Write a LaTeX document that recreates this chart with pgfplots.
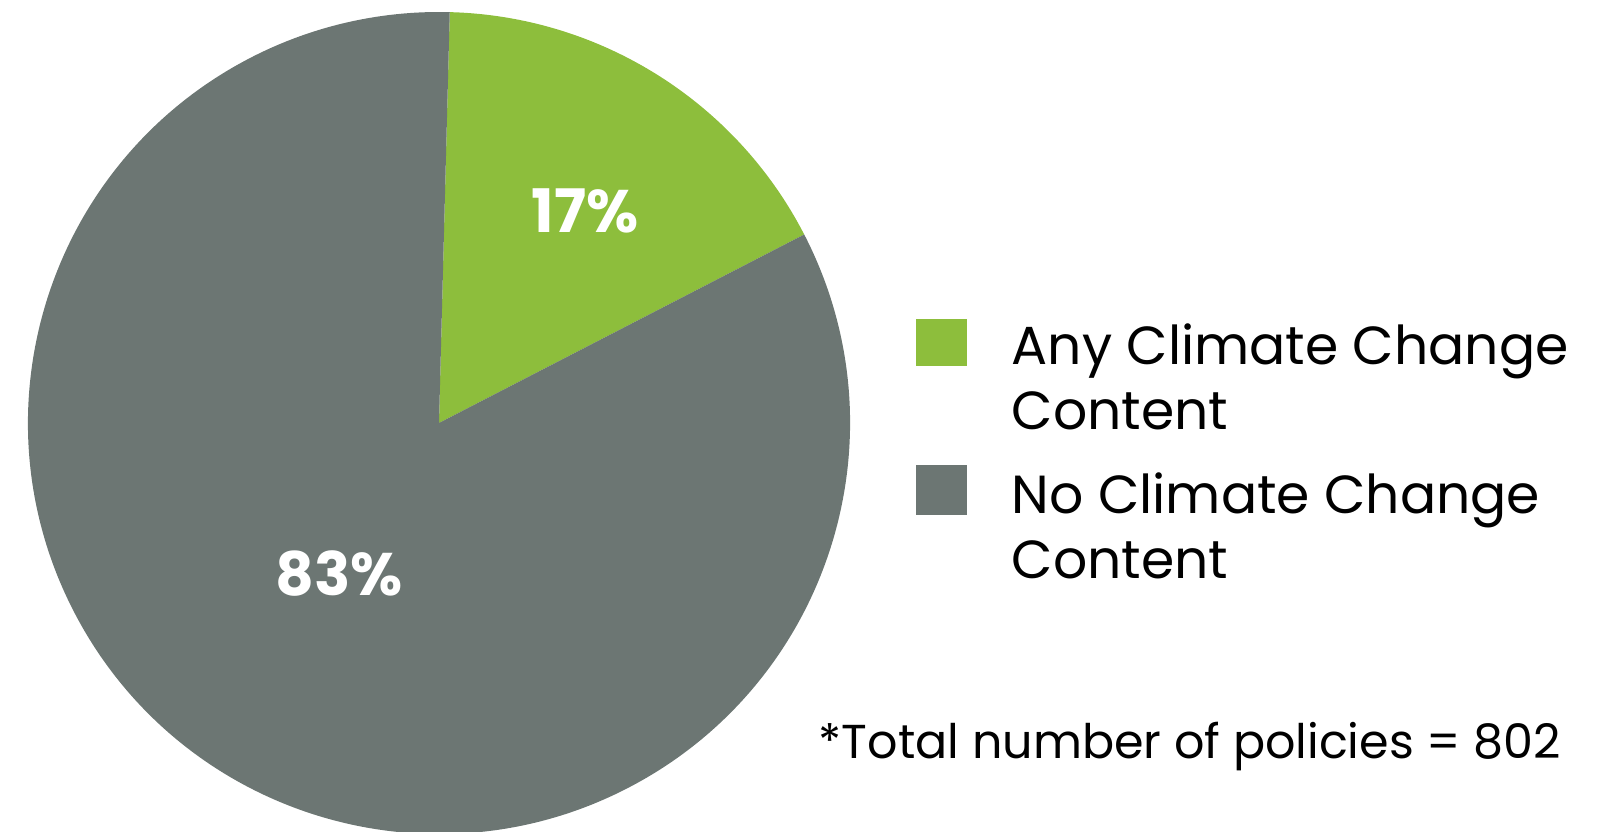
\documentclass[border=0pt]{standalone}
\usepackage{pgfplots}
\pgfplotsset{compat=1.18}
\usepackage{pgfplotstable}
\usepackage{fontspec}
\setmainfont{Poppins}
\definecolor{cgreen}{HTML}{8DBE3C}
\definecolor{cgray}{HTML}{6C7673}
\pgfplotstableread{
label value
Any 17
No 83
}\piedata
\begin{document}
\begin{tikzpicture}
\pgfplotstablegetelem{0}{value}\of\piedata \let\va\pgfplotsretval
\pgfplotstablegetelem{1}{value}\of\piedata \let\vb\pgfplotsretval
\pgfmathsetmacro{\astart}{88.5}
\pgfmathsetmacro{\amid}{\astart-3.6*\va}
\pgfmathsetmacro{\aend}{\amid-3.6*\vb}
\begin{axis}[x=0.25pt,y=0.25pt,xmin=0,xmax=1604,ymin=0,ymax=832,hide axis,clip=false]
\coordinate (bl) at (axis cs:0,0);
\coordinate (tr) at (axis cs:1604,832);
\fill[cgreen] (axis cs:439,409) -- ++(\astart:102.75pt) arc[start angle=\astart, end angle=\amid, radius=102.75pt] -- cycle;
\fill[cgray] (axis cs:439,409) -- ++(\amid:102.75pt) arc[start angle=\amid, end angle=\aend, radius=102.75pt] -- cycle;
\node[font=\bfseries\fontsize{15}{18}\selectfont, text=white] at (axis cs:585,621) {17\%};
\node[font=\bfseries\fontsize{15}{18}\selectfont, text=white] at (axis cs:339,258) {83\%};
\fill[cgreen] (axis cs:916,466) rectangle (axis cs:967,513);
\fill[cgray] (axis cs:916,317) rectangle (axis cs:967,367);
\node[anchor=base west, inner sep=0pt, font=\fontsize{13.4}{16}\selectfont] at (axis cs:1011,467) {Any Climate Change};
\node[anchor=base west, inner sep=0pt, font=\fontsize{13.4}{16}\selectfont] at (axis cs:1011,402) {Content};
\node[anchor=base west, inner sep=0pt, font=\fontsize{13.4}{16}\selectfont] at (axis cs:1011,318) {No Climate Change};
\node[anchor=base west, inner sep=0pt, font=\fontsize{13.4}{16}\selectfont] at (axis cs:1011,253) {Content};
\node[anchor=base west, inner sep=0pt, font=\fontsize{11.9}{14}\selectfont] at (axis cs:818,73) {*Total number of policies = 802};
\end{axis}
\pgfresetboundingbox
\useasboundingbox (bl) rectangle (tr);
\end{tikzpicture}
\end{document}
